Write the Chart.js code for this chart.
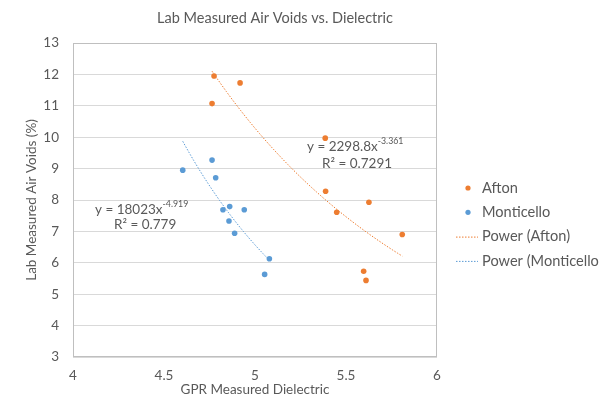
<!DOCTYPE html>
<html>
<head>
<meta charset="utf-8">
<script src="https://cdn.jsdelivr.net/npm/chart.js@4.4.0/dist/chart.umd.min.js"></script>
<style>
  html, body { margin: 0; padding: 0; background: #fff; }
  #wrap { width: 599px; height: 404px; position: relative; }
</style>
</head>
<body>
<div id="wrap"><canvas id="voidsChart"></canvas></div>
<script>
// lab cores: dielectric from GPR vs. measured air voids
const aftonDielectric = [4.775, 4.918, 4.764, 5.386, 5.388, 5.626, 5.449, 5.809, 5.597, 5.61];
const aftonVoids = [11.95, 11.73, 11.07, 9.97, 8.28, 7.93, 7.61, 6.9, 5.73, 5.44];
const monticelloDielectric = [4.764, 4.603, 4.784, 4.824, 4.861, 4.941, 4.857, 4.888, 5.079, 5.053];
const monticelloVoids = [9.27, 8.95, 8.71, 7.69, 7.79, 7.69, 7.33, 6.94, 6.13, 5.63];

// power trendlines y = a * x^b
const aftonFit = [2298.8, -3.361];
const monticelloFit = [18023, -4.919];
const aftonR2 = '0.7291';
const monticelloR2 = '0.779';

const xTicks = [4, 4.5, 5, 5.5, 6];
const yTicks = [3, 4, 5, 6, 7, 8, 9, 10, 11, 12, 13];

const ORANGE = '#ED7D31';
const BLUE = '#5B9BD5';
const TEXT = '#595959';
const FONT = 'Lato, "Liberation Sans", sans-serif';

const toPoints = (xs, ys) => xs.map((x, i) => ({ x, y: ys[i] }));

const powerCurve = (fit, xs) => {
  const lo = Math.min(...xs), hi = Math.max(...xs);
  const pts = [];
  for (let i = 0; i <= 40; i++) {
    const x = lo + (hi - lo) * i / 40;
    pts.push({ x, y: fit[0] * Math.pow(x, fit[1]) });
  }
  return pts;
};

// text with a superscript exponent
const drawSup = (ctx, x, y, base, sup, size) => {
  ctx.font = size + 'px ' + FONT;
  ctx.fillText(base, x, y);
  const w = ctx.measureText(base).width;
  ctx.font = (size * 0.65) + 'px ' + FONT;
  ctx.fillText(sup, x + w, y - size * 0.4);
};

const extras = {
  id: 'extras',
  beforeDatasetsDraw(chart) {
    const { ctx, chartArea: a } = chart;
    ctx.save();
    ctx.strokeStyle = '#BFBFBF';
    ctx.lineWidth = 1;
    ctx.strokeRect(a.left + 0.5, a.top + 0.5, a.right - a.left - 1, a.bottom - a.top - 1);
    ctx.restore();
  },
  afterDraw(chart) {
    const ctx = chart.ctx;
    ctx.save();
    ctx.fillStyle = TEXT;
    ctx.textBaseline = 'middle';

    ctx.textAlign = 'center';
    ctx.font = '14.5px ' + FONT;
    ctx.fillText('Lab Measured Air Voids vs. Dielectric', 275, 18);

    ctx.textAlign = 'left';
    drawSup(ctx, 95, 210, 'y = ' + monticelloFit[0] + 'x', String(monticelloFit[1]), 13.5);
    ctx.font = '13.5px ' + FONT;
    ctx.fillText('R² = ' + monticelloR2, 114, 225);

    drawSup(ctx, 307, 147, 'y = ' + aftonFit[0] + 'x', String(aftonFit[1]), 13.5);
    ctx.font = '13.5px ' + FONT;
    ctx.fillText('R² = ' + aftonR2, 322, 164);

    // legend
    const rows = [
      { label: 'Afton', color: ORANGE, line: false },
      { label: 'Monticello', color: BLUE, line: false },
      { label: 'Power (Afton)', color: ORANGE, line: true },
      { label: 'Power (Monticello)', color: BLUE, line: true }
    ];
    ctx.font = '14.6px ' + FONT;
    rows.forEach((r, i) => {
      const y = 188 + i * 24.3;
      if (r.line) {
        ctx.strokeStyle = r.color;
        ctx.lineWidth = 1;
        ctx.setLineDash([1.5, 1.5]);
        ctx.beginPath();
        ctx.moveTo(456, y + 0.5);
        ctx.lineTo(478, y + 0.5);
        ctx.stroke();
        ctx.setLineDash([]);
      } else {
        ctx.fillStyle = r.color;
        ctx.beginPath();
        ctx.arc(468, y, 2.6, 0, Math.PI * 2);
        ctx.fill();
      }
      ctx.fillStyle = TEXT;
      ctx.fillText(r.label, 482, y);
    });
    ctx.restore();
  }
};

new Chart(document.getElementById('voidsChart'), {
  type: 'scatter',
  data: {
    datasets: [
      {
        label: 'Afton',
        data: toPoints(aftonDielectric, aftonVoids),
        backgroundColor: ORANGE,
        borderColor: ORANGE,
        pointRadius: 2.8,
        pointBorderWidth: 0
      },
      {
        label: 'Monticello',
        data: toPoints(monticelloDielectric, monticelloVoids),
        backgroundColor: BLUE,
        borderColor: BLUE,
        pointRadius: 2.8,
        pointBorderWidth: 0
      },
      {
        label: 'Power (Afton)',
        data: powerCurve(aftonFit, aftonDielectric),
        showLine: true,
        borderColor: ORANGE,
        borderWidth: 1,
        borderDash: [1.5, 1.5],
        pointRadius: 0,
        tension: 0
      },
      {
        label: 'Power (Monticello)',
        data: powerCurve(monticelloFit, monticelloDielectric),
        showLine: true,
        borderColor: BLUE,
        borderWidth: 1,
        borderDash: [1.5, 1.5],
        pointRadius: 0,
        tension: 0
      }
    ]
  },
  options: {
    responsive: true,
    maintainAspectRatio: false,
    animation: false,
    layout: { padding: { top: 43, right: 162, left: 0, bottom: 0 } },
    plugins: {
      legend: { display: false },
      title: { display: false },
      tooltip: { enabled: false }
    },
    scales: {
      x: {
        type: 'linear',
        min: 4,
        max: 6,
        afterBuildTicks: (s) => { s.ticks = xTicks.map(v => ({ value: v })); },
        afterFit: (s) => { s.height = 47; },
        grid: { display: false, drawTicks: false },
        border: { display: false },
        ticks: {
          color: TEXT,
          font: { family: FONT, size: 13.5 },
          padding: 11,
          callback: (v) => String(v)
        },
        title: {
          display: true,
          text: 'GPR Measured Dielectric',
          color: TEXT,
          font: { family: FONT, size: 13.5 },
          padding: { top: 0, bottom: 6 }
        }
      },
      y: {
        type: 'linear',
        min: 3,
        max: 13,
        afterBuildTicks: (s) => { s.ticks = yTicks.map(v => ({ value: v })); },
        afterFit: (s) => { s.width = 73; },
        grid: { color: '#D9D9D9', drawTicks: false },
        border: { display: false },
        ticks: {
          color: TEXT,
          font: { family: FONT, size: 13.5 },
          padding: 14,
          callback: (v) => String(v)
        },
        title: {
          display: true,
          text: 'Lab Measured Air Voids (%)',
          color: TEXT,
          font: { family: FONT, size: 13.5 },
          padding: { top: 24, bottom: 0 }
        }
      }
    }
  },
  plugins: [extras]
});
</script>
</body>
</html>
